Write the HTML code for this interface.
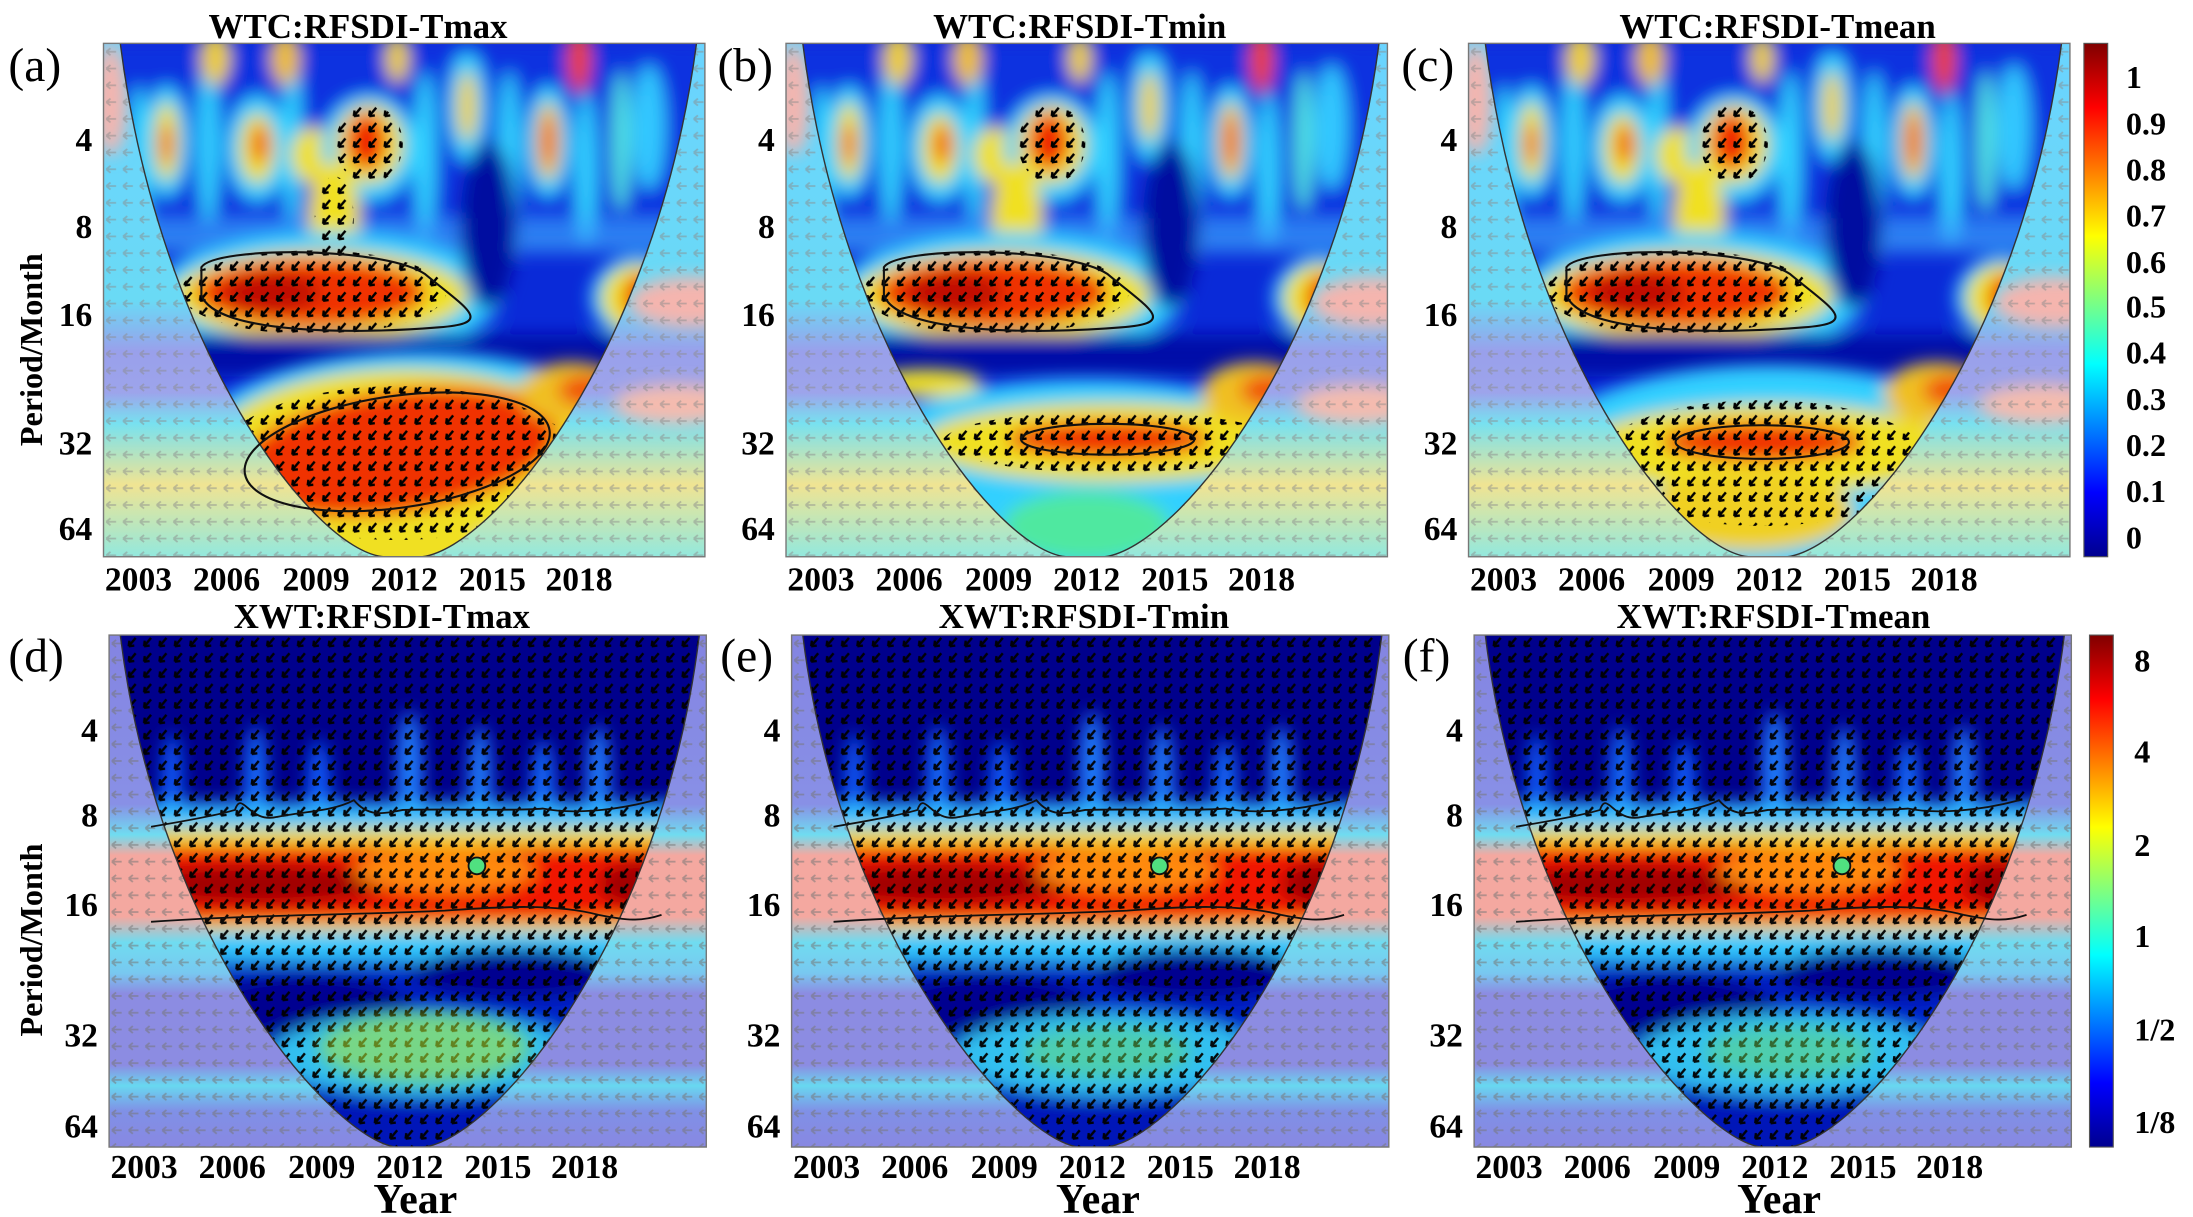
<!DOCTYPE html>
<html><head><meta charset="utf-8"><style>
html,body{margin:0;padding:0;background:#fff;overflow:hidden}
svg{display:block}
text{font-family:"Liberation Serif",serif;font-weight:bold;fill:#000}
</style></head><body>
<svg width="2193" height="1217" viewBox="0 0 1568 870" preserveAspectRatio="none" xmlns="http://www.w3.org/2000/svg">
<defs>
<filter id="bl" x="-50%" y="-50%" width="200%" height="200%"><feGaussianBlur stdDeviation="6"/></filter>
<linearGradient id="jet" x1="0" y1="1" x2="0" y2="0">
<stop offset="0" stop-color="#00008f"/><stop offset=".125" stop-color="#0000ff"/><stop offset=".375" stop-color="#00ffff"/><stop offset=".625" stop-color="#ffff00"/><stop offset=".875" stop-color="#ff0000"/><stop offset="1" stop-color="#800000"/>
</linearGradient>
<pattern id="pk" width="11" height="11" patternUnits="userSpaceOnUse"><path d="M8,2 L3,8 M3,8 l0.5,-4 M3,8 l4,-0.5" stroke="#000" stroke-width="1.7" fill="none"/></pattern>
<pattern id="pg" width="12" height="12" patternUnits="userSpaceOnUse"><path d="M9,6 L2,6 M2,6 l3,-2.5 M2,6 l3,2.5" stroke="#777" stroke-width="1.3" fill="none"/></pattern>
<linearGradient id="gOutT" x1="0" y1="0" x2="0" y2="1">
<stop offset="0" stop-color="#50ccff"/><stop offset=".5" stop-color="#50d4f4"/><stop offset=".6" stop-color="#8890e8"/><stop offset=".68" stop-color="#8c94e8"/><stop offset=".74" stop-color="#60dcee"/><stop offset=".86" stop-color="#eee080"/><stop offset="1" stop-color="#80e4d8"/>
</linearGradient>
<linearGradient id="gOutB" x1="0" y1="0" x2="0" y2="1">
<stop offset="0" stop-color="#8484e2"/><stop offset=".33" stop-color="#8890e6"/><stop offset=".39" stop-color="#70dcf0"/><stop offset=".43" stop-color="#f4a8a0"/><stop offset=".55" stop-color="#f4a8a0"/><stop offset=".6" stop-color="#70dcf0"/><stop offset=".66" stop-color="#78c8f0"/><stop offset=".7" stop-color="#8c8ce2"/><stop offset=".84" stop-color="#8c8ce2"/><stop offset=".88" stop-color="#68d8f0"/><stop offset=".93" stop-color="#8090e6"/><stop offset="1" stop-color="#8888e2"/>
</linearGradient>
<clipPath id="clipT"><rect x="0" y="0" width="430" height="367"/></clipPath>
<clipPath id="coiT"><path d="M12,0 C40,220 150,362 200,367 L228,367 C280,360 395,220 424,0 Z"/></clipPath>
<clipPath id="clipB"><rect x="0" y="0" width="427" height="366"/></clipPath>
<clipPath id="coiB"><path d="M8,0 C35,220 160,360 205,366 L225,366 C275,360 395,220 422,0 Z"/></clipPath>

<g id="topOut">
<rect width="430" height="367" fill="url(#gOutT)"/>
<g filter="url(#bl)">
<ellipse cx="420" cy="185" rx="45" ry="18" fill="#f4a8a0"/>
<ellipse cx="410" cy="258" rx="45" ry="14" fill="#f4b0a0"/>
<ellipse cx="5" cy="40" rx="12" ry="40" fill="#f4a8a0"/>
</g>
<rect width="430" height="367" fill="url(#pg)" opacity=".5"/>
</g>

<g id="topTop">
<rect width="430" height="367" fill="#0a2ad8"/>
<g filter="url(#bl)">
<rect x="0" y="0" width="430" height="140" fill="#0a30e0"/>
<ellipse cx="25" cy="90" rx="8" ry="60" fill="#30d0ff"/>
<ellipse cx="75" cy="70" rx="8" ry="60" fill="#30d0ff"/>
<ellipse cx="135" cy="70" rx="7" ry="60" fill="#30d0ff"/>
<ellipse cx="230" cy="80" rx="8" ry="60" fill="#30d0ff"/>
<ellipse cx="290" cy="80" rx="8" ry="60" fill="#30d0ff"/>
<ellipse cx="345" cy="90" rx="8" ry="55" fill="#30d0ff"/>
<ellipse cx="370" cy="70" rx="7" ry="50" fill="#50e0e0"/>
<ellipse cx="45" cy="70" rx="16" ry="40" fill="#30d0ff"/><ellipse cx="45" cy="70" rx="9" ry="28" fill="#f0e020"/><ellipse cx="45" cy="72" rx="4" ry="15" fill="#f04010"/>
<ellipse cx="110" cy="75" rx="22" ry="38" fill="#30d0ff"/><ellipse cx="110" cy="75" rx="13" ry="25" fill="#f0e020"/><ellipse cx="112" cy="72" rx="6" ry="14" fill="#f05010"/>
<ellipse cx="150" cy="80" rx="16" ry="20" fill="#f0e020"/>
<ellipse cx="190" cy="75" rx="34" ry="38" fill="#30d0ff"/><ellipse cx="190" cy="72" rx="24" ry="28" fill="#f0e020"/><ellipse cx="188" cy="70" rx="14" ry="20" fill="#f02000"/>
<ellipse cx="260" cy="45" rx="14" ry="40" fill="#30d0ff"/><ellipse cx="260" cy="45" rx="7" ry="25" fill="#f0d020"/>
<ellipse cx="318" cy="70" rx="16" ry="40" fill="#30d0ff"/><ellipse cx="318" cy="70" rx="9" ry="28" fill="#f0c020"/><ellipse cx="318" cy="70" rx="4" ry="18" fill="#f04010"/>
<ellipse cx="390" cy="60" rx="12" ry="45" fill="#30c8ff"/>
<ellipse cx="80" cy="10" rx="10" ry="20" fill="#f0d020"/><ellipse cx="130" cy="10" rx="10" ry="20" fill="#f0c020"/><ellipse cx="340" cy="10" rx="8" ry="25" fill="#f04010"/><ellipse cx="210" cy="10" rx="8" ry="18" fill="#f0d020"/>
<rect x="0" y="125" width="430" height="25" fill="#40b0ff" opacity=".6"/>
<ellipse cx="165" cy="125" rx="18" ry="40" fill="#f0e020"/>
<ellipse cx="160" cy="180" rx="125" ry="45" fill="#30d0ff"/>
<ellipse cx="155" cy="180" rx="105" ry="32" fill="#f0e020"/>
<ellipse cx="148" cy="178" rx="82" ry="24" fill="#f03000"/>
<ellipse cx="120" cy="178" rx="35" ry="14" fill="#c01000"/>
<ellipse cx="275" cy="130" rx="20" ry="60" fill="#0010a0"/>
<ellipse cx="382" cy="182" rx="34" ry="30" fill="#30d0ff"/><ellipse cx="382" cy="182" rx="26" ry="24" fill="#f0e020"/><ellipse cx="385" cy="182" rx="13" ry="17" fill="#f03000"/>
<rect x="0" y="208" width="430" height="30" fill="#0010a8"/>
</g>
</g>
</defs>

<!-- ===== Panel a ===== -->
<g transform="translate(74,31)">
<g clip-path="url(#clipT)">
<use href="#topOut"/>
<rect width="430" height="367" fill="#fff" opacity=".15"/>
<g clip-path="url(#coiT)">
<use href="#topTop"/>
<g filter="url(#bl)">
<ellipse cx="225" cy="300" rx="170" ry="80" fill="#30d0ff"/>
<ellipse cx="215" cy="295" rx="140" ry="62" fill="#f0e020"/>
<ellipse cx="210" cy="292" rx="115" ry="44" fill="#f03000" transform="rotate(-8 210 292)"/>
<ellipse cx="335" cy="250" rx="38" ry="22" fill="#f0c020"/><ellipse cx="345" cy="248" rx="20" ry="11" fill="#f05010"/>
<ellipse cx="210" cy="360" rx="60" ry="20" fill="#f0e020"/>
</g>
<ellipse cx="150" cy="178" rx="95" ry="30" fill="url(#pk)"/>
<ellipse cx="210" cy="300" rx="130" ry="55" fill="url(#pk)"/>
<ellipse cx="190" cy="72" rx="24" ry="28" fill="url(#pk)"/>
<ellipse cx="165" cy="125" rx="14" ry="30" fill="url(#pk)"/>
</g>
<path d="M12,0 C40,220 150,362 200,367 L228,367 C280,360 395,220 424,0" fill="none" stroke="#333" stroke-width="1"/>
<ellipse cx="210" cy="292" rx="110" ry="40" transform="rotate(-8 210 292)" fill="none" stroke="#111" stroke-width="1.5"/>
<path d="M70,160 C80,145 200,145 230,165 C260,190 280,200 240,203 C180,208 80,208 70,180 Z" fill="none" stroke="#111" stroke-width="1.5"/>
</g>
<rect width="430" height="367" fill="none" stroke="#777" stroke-width="1"/>
</g>

<!-- ===== Panel b ===== -->
<g transform="translate(562,31)">
<g clip-path="url(#clipT)">
<use href="#topOut"/>
<rect width="430" height="367" fill="#fff" opacity=".15"/>
<g clip-path="url(#coiT)">
<use href="#topTop"/>
<g filter="url(#bl)">
<ellipse cx="215" cy="310" rx="180" ry="70" fill="#30d0ff"/>
<ellipse cx="215" cy="345" rx="60" ry="25" fill="#50e8a0"/>
<ellipse cx="232" cy="285" rx="135" ry="28" fill="#f0e020"/>
<ellipse cx="230" cy="283" rx="72" ry="13" fill="#f03000"/>
<ellipse cx="100" cy="243" rx="40" ry="10" fill="#f0e020"/>
<ellipse cx="335" cy="250" rx="38" ry="22" fill="#f0c020"/><ellipse cx="345" cy="248" rx="20" ry="11" fill="#f05010"/>
</g>
<ellipse cx="150" cy="178" rx="95" ry="30" fill="url(#pk)"/>
<ellipse cx="232" cy="285" rx="120" ry="22" fill="url(#pk)"/>
<ellipse cx="190" cy="72" rx="24" ry="28" fill="url(#pk)"/>
</g>
<path d="M12,0 C40,220 150,362 200,367 L228,367 C280,360 395,220 424,0" fill="none" stroke="#333" stroke-width="1"/>
<ellipse cx="230" cy="283" rx="62" ry="11" fill="none" stroke="#111" stroke-width="1.5"/>
<path d="M70,160 C80,145 200,145 230,165 C260,190 280,200 240,203 C180,208 80,208 70,180 Z" fill="none" stroke="#111" stroke-width="1.5"/>
</g>
<rect width="430" height="367" fill="none" stroke="#777" stroke-width="1"/>
</g>

<!-- ===== Panel c ===== -->
<g transform="translate(1050,31)">
<g clip-path="url(#clipT)">
<use href="#topOut"/>
<rect width="430" height="367" fill="#fff" opacity=".15"/>
<g clip-path="url(#coiT)">
<use href="#topTop"/>
<g filter="url(#bl)">
<ellipse cx="215" cy="305" rx="175" ry="75" fill="#30d0ff"/>
<ellipse cx="215" cy="290" rx="135" ry="32" fill="#f0e020"/>
<ellipse cx="200" cy="335" rx="75" ry="28" fill="#f0d020"/>
<ellipse cx="210" cy="285" rx="72" ry="14" fill="#f03000"/>
<ellipse cx="335" cy="250" rx="38" ry="22" fill="#f0c020"/><ellipse cx="345" cy="248" rx="20" ry="11" fill="#f05010"/>
</g>
<ellipse cx="150" cy="178" rx="95" ry="30" fill="url(#pk)"/>
<ellipse cx="210" cy="300" rx="120" ry="45" fill="url(#pk)"/>
<ellipse cx="190" cy="72" rx="24" ry="28" fill="url(#pk)"/>
</g>
<path d="M12,0 C40,220 150,362 200,367 L228,367 C280,360 395,220 424,0" fill="none" stroke="#333" stroke-width="1"/>
<ellipse cx="210" cy="285" rx="62" ry="12" fill="none" stroke="#111" stroke-width="1.5"/>
<path d="M70,160 C80,145 200,145 230,165 C260,190 280,200 240,203 C180,208 80,208 70,180 Z" fill="none" stroke="#111" stroke-width="1.5"/>
</g>
<rect width="430" height="367" fill="none" stroke="#777" stroke-width="1"/>
</g>

<!-- bottom panel template -->
<defs>
<g id="bot">
<g clip-path="url(#clipB)">
<rect width="427" height="366" fill="url(#gOutB)"/>
<rect width="427" height="366" fill="url(#pg)" opacity=".55"/>
<g clip-path="url(#coiB)">
<rect width="427" height="366" fill="#00008c"/>
<g filter="url(#bl)">
<ellipse cx="45" cy="110" rx="7" ry="40" fill="#1060ff"/>
<ellipse cx="105" cy="110" rx="8" ry="45" fill="#1870ff"/>
<ellipse cx="150" cy="115" rx="8" ry="40" fill="#1060ff"/>
<ellipse cx="215" cy="100" rx="9" ry="45" fill="#2080ff"/>
<ellipse cx="265" cy="110" rx="8" ry="45" fill="#2080ff"/>
<ellipse cx="310" cy="115" rx="8" ry="40" fill="#1870ff"/>
<ellipse cx="350" cy="105" rx="8" ry="40" fill="#2080ff"/>
<rect x="0" y="120" width="427" height="22" fill="#30c0ff"/>
<rect x="0" y="138" width="427" height="78" fill="#f0e020"/>
<rect x="0" y="150" width="427" height="55" fill="#f01800"/>
<ellipse cx="110" cy="178" rx="90" ry="14" fill="#a00000"/>
<ellipse cx="380" cy="178" rx="30" ry="16" fill="#a00000"/>
<ellipse cx="240" cy="168" rx="65" ry="16" fill="#ff8a10"/>
<rect x="0" y="212" width="427" height="22" fill="#30c8ff"/>
<rect x="0" y="236" width="427" height="95" fill="#0020c8"/>
<ellipse cx="140" cy="265" rx="75" ry="22" fill="#000090"/>
<ellipse cx="290" cy="242" rx="75" ry="18" fill="#000090"/>
<ellipse cx="225" cy="300" rx="110" ry="30" fill="#30c0f0"/>
<rect x="0" y="332" width="427" height="40" fill="#0018b8"/>
</g>
<rect width="427" height="366" fill="url(#pk)" opacity=".95"/>
</g>
<path d="M8,0 C35,220 160,360 205,366 L225,366 C275,360 395,220 422,0" fill="none" stroke="#333" stroke-width="1"/>
<path d="M30,137 C60,132 80,128 90,125 C95,110 100,135 120,130 C140,126 160,126 175,118 C185,130 195,128 210,125 C240,124 290,126 310,124 C330,128 360,126 390,118" fill="none" stroke="#111" stroke-width="1.3"/>
<path d="M30,205 C100,200 180,200 240,197 C280,194 320,192 350,200 C370,204 380,205 395,200" fill="none" stroke="#111" stroke-width="1.3"/>
<circle cx="263" cy="165" r="6" fill="#50e080" stroke="#111" stroke-width="1.3"/>
</g>
<rect width="427" height="366" fill="none" stroke="#777" stroke-width="1"/>
</g>
</defs>

<g transform="translate(78,454)"><use href="#bot"/>
<ellipse cx="225" cy="295" rx="75" ry="25" fill="#b0e830" opacity=".55" filter="url(#bl)"/></g>
<g transform="translate(566,454)"><use href="#bot"/>
<ellipse cx="225" cy="298" rx="60" ry="18" fill="#70e060" opacity=".45" filter="url(#bl)"/></g>
<g transform="translate(1054,454)"><use href="#bot"/>
<ellipse cx="225" cy="298" rx="60" ry="18" fill="#70e060" opacity=".45" filter="url(#bl)"/></g>

<!-- colorbars -->
<rect x="1490" y="31" width="17" height="367" fill="url(#jet)" stroke="#555" stroke-width=".8"/>
<rect x="1494" y="454" width="17" height="366" fill="url(#jet)" stroke="#555" stroke-width=".8"/>
<g font-size="23">
<text x="1520" y="63">1</text><text x="1520" y="96">0.9</text><text x="1520" y="129">0.8</text><text x="1520" y="162">0.7</text><text x="1520" y="195">0.6</text><text x="1520" y="227">0.5</text><text x="1520" y="260">0.4</text><text x="1520" y="293">0.3</text><text x="1520" y="326">0.2</text><text x="1520" y="359">0.1</text><text x="1520" y="392">0</text>
<text x="1526" y="480">8</text><text x="1526" y="545">4</text><text x="1526" y="612">2</text><text x="1526" y="677">1</text><text x="1526" y="744">1/2</text><text x="1526" y="810">1/8</text>
</g>

<!-- titles -->
<g font-size="25" text-anchor="middle">
<text x="256" y="27">WTC:RFSDI-Tmax</text>
<text x="772" y="27">WTC:RFSDI-Tmin</text>
<text x="1271" y="27">WTC:RFSDI-Tmean</text>
<text x="273" y="449">XWT:RFSDI-Tmax</text>
<text x="775" y="449">XWT:RFSDI-Tmin</text>
<text x="1268" y="449">XWT:RFSDI-Tmean</text>
</g>
<g font-size="34">
<text x="6" y="58" style="font-weight:normal">(a)</text>
<text x="513" y="58" style="font-weight:normal">(b)</text>
<text x="1002" y="58" style="font-weight:normal">(c)</text>
<text x="6" y="480" style="font-weight:normal">(d)</text>
<text x="515" y="480" style="font-weight:normal">(e)</text>
<text x="1003" y="480" style="font-weight:normal">(f)</text>
</g>

<!-- y ticks -->
<g font-size="24" text-anchor="end">
<text x="66" y="108">4</text><text x="66" y="170">8</text><text x="66" y="233">16</text><text x="66" y="325">32</text><text x="66" y="386">64</text>
<text x="554" y="108">4</text><text x="554" y="170">8</text><text x="554" y="233">16</text><text x="554" y="325">32</text><text x="554" y="386">64</text>
<text x="1042" y="108">4</text><text x="1042" y="170">8</text><text x="1042" y="233">16</text><text x="1042" y="325">32</text><text x="1042" y="386">64</text>
<text x="70" y="530">4</text><text x="70" y="591">8</text><text x="70" y="655">16</text><text x="70" y="748">32</text><text x="70" y="813">64</text>
<text x="558" y="530">4</text><text x="558" y="591">8</text><text x="558" y="655">16</text><text x="558" y="748">32</text><text x="558" y="813">64</text>
<text x="1046" y="530">4</text><text x="1046" y="591">8</text><text x="1046" y="655">16</text><text x="1046" y="748">32</text><text x="1046" y="813">64</text>
</g>

<!-- x ticks -->
<g font-size="24" text-anchor="middle">
<text x="99" y="422">2003</text><text x="162" y="422">2006</text><text x="226" y="422">2009</text><text x="289" y="422">2012</text><text x="352" y="422">2015</text><text x="414" y="422">2018</text>
<text x="587" y="422">2003</text><text x="650" y="422">2006</text><text x="714" y="422">2009</text><text x="777" y="422">2012</text><text x="840" y="422">2015</text><text x="902" y="422">2018</text>
<text x="1075" y="422">2003</text><text x="1138" y="422">2006</text><text x="1202" y="422">2009</text><text x="1265" y="422">2012</text><text x="1328" y="422">2015</text><text x="1390" y="422">2018</text>
<text x="103" y="842">2003</text><text x="166" y="842">2006</text><text x="230" y="842">2009</text><text x="293" y="842">2012</text><text x="356" y="842">2015</text><text x="418" y="842">2018</text>
<text x="591" y="842">2003</text><text x="654" y="842">2006</text><text x="718" y="842">2009</text><text x="781" y="842">2012</text><text x="844" y="842">2015</text><text x="906" y="842">2018</text>
<text x="1079" y="842">2003</text><text x="1142" y="842">2006</text><text x="1206" y="842">2009</text><text x="1269" y="842">2012</text><text x="1332" y="842">2015</text><text x="1394" y="842">2018</text>
</g>
<g font-size="30" text-anchor="middle">
<text x="297" y="867">Year</text><text x="785" y="867">Year</text><text x="1272" y="867">Year</text>
</g>
<g font-size="23" text-anchor="middle">
<text transform="translate(30,250) rotate(-90)">Period/Month</text>
<text transform="translate(30,672) rotate(-90)">Period/Month</text>
</g>
</svg>
</body></html>
